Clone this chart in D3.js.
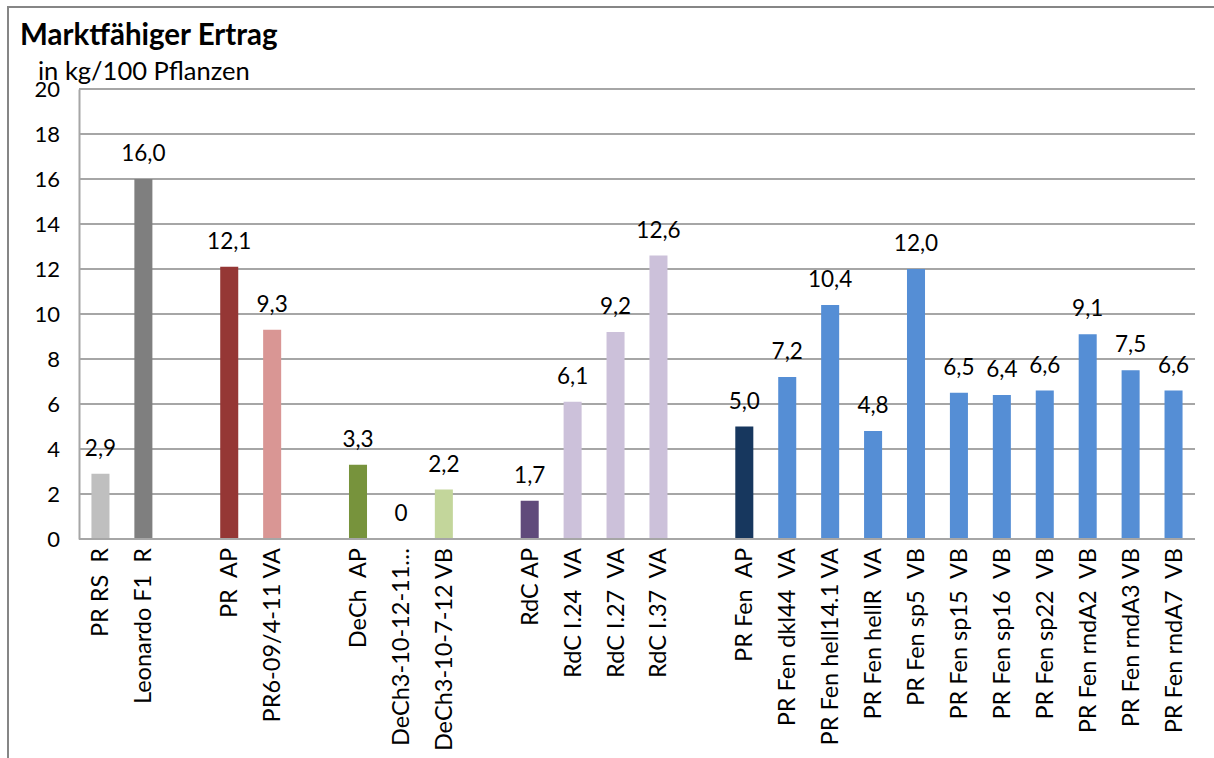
<!DOCTYPE html>
<html>
<head>
<meta charset="utf-8">
<script src="https://cdn.jsdelivr.net/npm/d3@7"></script>
<style>
  html, body { margin: 0; padding: 0; background: #fff; }
  text { font-family: Lato, "Open Sans", sans-serif; fill: #000; white-space: pre; }
</style>
</head>
<body>
<svg id="chart" width="1214" height="758"></svg>
<script>
// Varieties in plotting order
const categories = [
  "PR RS  R", "Leonardo F1  R",
  "PR  AP", "PR6-09/4-11 VA",
  "DeCh  AP", "DeCh3-10-12-11…", "DeCh3-10-7-12 VB",
  "RdC AP", "RdC I.24  VA", "RdC I.27  VA", "RdC I.37  VA",
  "PR Fen  AP", "PR Fen dkl44  VA", "PR Fen hell14.1 VA", "PR Fen hellR  VA",
  "PR Fen sp5  VB", "PR Fen sp15  VB", "PR Fen sp16  VB", "PR Fen sp22  VB",
  "PR Fen rndA2  VB", "PR Fen rndA3 VB", "PR Fen rndA7  VB"
];
// Marketable yield, kg per 100 plants
const values = [
  2.9, 16.0,
  12.1, 9.3,
  3.3, 0, 2.2,
  1.7, 6.1, 9.2, 12.6,
  5.0, 7.2, 10.4, 4.8, 12.0, 6.5, 6.4, 6.6, 9.1, 7.5, 6.6
];
// Group membership (an empty slot separates the groups)
const groups = [0,0, 1,1, 2,2,2, 3,3,3,3, 4,4,4,4,4,4,4,4,4,4,4];
const colors = [
  "#bfbfbf", "#7f7f7f",
  "#953735", "#d99694",
  "#77933c", "#c3d69b", "#c3d69b",
  "#604a7b", "#ccc1da", "#ccc1da", "#ccc1da",
  "#17375e", "#558ed5", "#558ed5", "#558ed5", "#558ed5", "#558ed5",
  "#558ed5", "#558ed5", "#558ed5", "#558ed5", "#558ed5"
];
const yTicks = [0, 2, 4, 6, 8, 10, 12, 14, 16, 18, 20];
const title = "Marktfähiger Ertrag";
const subtitle = "in kg/100 Pflanzen";

const svg = d3.select("#chart");
const plot = { left: 79, right: 1195, top: 89, bottom: 539 };

// Outer frame
svg.append("rect")
  .attr("x", 8).attr("y", 7)
  .attr("width", 1230).attr("height", 800)
  .attr("fill", "none").attr("stroke", "#868686").attr("stroke-width", 2);

const nSlots = categories.length + d3.max(groups);
const slot = (i) => i + groups[i];

const x = d3.scaleBand()
  .domain(d3.range(nSlots))
  .range([plot.left, plot.right])
  .paddingInner(0.58)
  .paddingOuter(0.29);

const y = d3.scaleLinear().domain([0, 20]).range([plot.bottom, plot.top]);

// Gridlines
svg.append("g")
  .selectAll("line")
  .data(yTicks.filter(d => d > 0))
  .join("line")
  .attr("x1", plot.left).attr("x2", plot.right)
  .attr("y1", d => y(d)).attr("y2", d => y(d))
  .attr("stroke", "#a6a6a6").attr("stroke-width", 2);

// Y axis
const yAxis = svg.append("g")
  .attr("transform", `translate(${plot.left},0)`)
  .call(d3.axisLeft(y).tickValues(yTicks).tickSize(0).tickPadding(19));
yAxis.select(".domain").attr("stroke", "#a6a6a6").attr("stroke-width", 2);
yAxis.selectAll("text")
  .style("font-size", "22px")
  .attr("dy", "0.36em");

// Bars
svg.append("g")
  .selectAll("rect")
  .data(values)
  .join("rect")
  .attr("x", (d, i) => x(slot(i)))
  .attr("width", x.bandwidth())
  .attr("y", d => y(d))
  .attr("height", d => y(0) - y(d))
  .attr("fill", (d, i) => colors[i]);

// X axis line
svg.append("line")
  .attr("x1", plot.left).attr("x2", plot.right)
  .attr("y1", y(0)).attr("y2", y(0))
  .attr("stroke", "#a6a6a6").attr("stroke-width", 2);

// Value labels
svg.append("g")
  .selectAll("text")
  .data(values)
  .join("text")
  .attr("x", (d, i) => x(slot(i)) + x.bandwidth() / 2)
  .attr("y", d => y(d) - 18)
  .attr("text-anchor", "middle")
  .style("font-size", "22.5px")
  .text(d => d === 0 ? "0" : d3.format(".1f")(d).replace(".", ","));

// Category labels (rotated)
svg.append("g")
  .selectAll("text")
  .data(categories)
  .join("text")
  .attr("transform", (d, i) =>
    `translate(${x(slot(i)) + x.bandwidth() / 2 + 8},${plot.bottom + 9}) rotate(-90)`)
  .attr("text-anchor", "end")
  .style("font-size", "23.5px")
  .text(d => d);

// Titles
svg.append("text")
  .attr("x", 20).attr("y", 45)
  .style("font-size", "29.5px").style("font-weight", "bold")
  .text(title);
svg.append("text")
  .attr("x", 38).attr("y", 80)
  .style("font-size", "25.5px")
  .text(subtitle);
</script>
</body>
</html>
